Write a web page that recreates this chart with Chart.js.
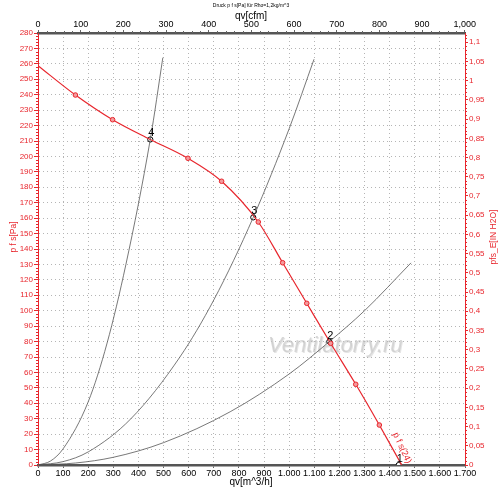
<!DOCTYPE html>
<html><head><meta charset="utf-8">
<script src="https://cdn.jsdelivr.net/npm/chart.js@4/dist/chart.umd.min.js"></script>
<style>html,body{margin:0;padding:0;background:#fff}canvas{display:block}</style>
</head><body>
<canvas id="c" width="500" height="489"></canvas>
<script>
// Fan curve (red): flow qv [m^3/h] and static pressure [Pa]
const fanQ = [0, 149, 297, 447, 597, 731, 877, 974, 1070, 1165, 1265, 1359, 1448];
const fanP = [258.8, 239.8, 223.8, 211, 198.8, 183.9, 157.5, 131.1, 104.8, 78.9, 52.3, 25.9, 0];
const fanMarker = [0, 1, 1, 0, 1, 1, 1, 1, 1, 1, 1, 1, 0];
// System curves (gray)
const sys4Q = [0, 50, 100, 200, 275, 350, 447, 497];
const sys4P = [0, 2.6, 10.5, 41, 79, 130, 211, 264];
const sys3Q = [0, 100, 200, 370, 565, 700, 857, 1000, 1099];
const sys3P = [0, 2.2, 8.5, 30, 70, 107, 160.5, 218, 263];
const sys2Q = [0, 150, 300, 500, 765, 1000, 1160, 1300, 1485];
const sys2P = [0, 1.3, 5, 14.5, 34.5, 59, 80, 100, 131];
// Operating points
const opQ = [1436, 1160, 857, 447];
const opP = [0, 80, 160.5, 211];
const opLabels = ['1', '2', '3', '4'];
// Tick labels / axis values
const cfmTicks = [0, 100, 200, 300, 400, 500, 600, 700, 800, 900, 1000];
const inH2OTicks = [0, 0.05, 0.1, 0.15, 0.2, 0.25, 0.3, 0.35, 0.4, 0.45, 0.5, 0.55, 0.6, 0.65, 0.7, 0.75, 0.8, 0.85, 0.9, 0.95, 1, 1.05, 1.1];
const xMax = 1700;            // m^3/h
const yMax = 280;             // Pa
const cfmPerM3h = 1 / 1.699;  // cfm
const inH2OPerPa = 1 / 249.089;

const RED = '#e8262d';
const FONT = "'Liberation Sans Narrow','Arial Narrow','Liberation Sans',Arial,sans-serif";

const toPts = (qs, ps) => qs.map((q, i) => ({x: q, y: ps[i]}));

const fmtThousands = (v, sep) => {
  const n = Math.round(v);
  if (n >= 1000) { const s = String(n); return s.slice(0, s.length - 3) + sep + s.slice(-3); }
  return String(n);
};

const decorPlugin = {
  id: 'decor',
  beforeDatasetsDraw(chart) {
    const ctx = chart.ctx;
    ctx.save();
    ctx.font = "italic 22px 'Liberation Sans',Arial,sans-serif";
    ctx.textBaseline = 'alphabetic';
    ctx.textAlign = 'left';
    ctx.fillStyle = 'rgba(150,150,150,0.25)';
    ctx.fillText('Ventilatorry.ru', 269, 353);
    ctx.fillStyle = 'rgba(200,200,200,0.7)';
    ctx.fillText('Ventilatorry.ru', 268, 352);
    ctx.restore();
  },
  afterDraw(chart) {
    const ctx = chart.ctx;
    const a = chart.chartArea;
    const sx = chart.scales.x, sy = chart.scales.y, sy2 = chart.scales.y2, sx2 = chart.scales.x2;
    ctx.save();
    // minor ticks
    ctx.lineWidth = 1;
    ctx.strokeStyle = RED;
    ctx.beginPath();
    for (let v = 0; v <= yMax; v += 2) {
      if (v % 10 === 0) continue;
      const y = Math.round(sy.getPixelForValue(v)) + 0.5;
      ctx.moveTo(a.left - 2, y); ctx.lineTo(a.left, y);
    }
    for (let k = 0; k <= 112; k++) {
      if (k % 5 === 0) continue;
      const y = Math.round(sy2.getPixelForValue(k / 100)) + 0.5;
      ctx.moveTo(a.right, y); ctx.lineTo(a.right + 2, y);
    }
    ctx.stroke();
    ctx.strokeStyle = '#666';
    ctx.beginPath();
    for (let v = 0; v <= 1000; v += 20) {
      if (v % 100 === 0) continue;
      const x = Math.round(sx2.getPixelForValue(v)) + 0.5;
      ctx.moveTo(x, a.top - 2); ctx.lineTo(x, a.top);
    }
    ctx.stroke();

    // titles
    ctx.fillStyle = '#000';
    ctx.textAlign = 'center';
    ctx.textBaseline = 'middle';
    ctx.font = "5px 'Liberation Sans',Arial,sans-serif";
    ctx.fillText('Druck p f s[Pa] für Rho=1,2kg/m^3', 251, 6);
    ctx.font = "10px " + FONT;
    ctx.fillText('qv[cfm]', 251, 16.5);
    ctx.fillText('qv[m^3/h]', 251, 482);
    ctx.fillStyle = RED;
    ctx.font = "8.5px " + FONT;
    ctx.save(); ctx.translate(14, 237); ctx.rotate(-Math.PI / 2); ctx.fillText('p f s[Pa]', 0, 0); ctx.restore();
    ctx.save(); ctx.translate(494, 237); ctx.rotate(-Math.PI / 2); ctx.fillText('pfs_E[IN H2O]', 0, 0); ctx.restore();
    // curve label
    ctx.save(); ctx.translate(402, 448); ctx.rotate(65 * Math.PI / 180);
    ctx.font = "9px " + FONT; ctx.fillText('p f s(24)', 0, 0); ctx.restore();

    // operating point labels
    ctx.fillStyle = '#000';
    ctx.font = "11px 'Liberation Sans',Arial,sans-serif";
    opQ.forEach((q, i) => {
      const x = sx.getPixelForValue(q), y = sy.getPixelForValue(opP[i]);
      ctx.fillText(opLabels[i], x + 1, y - 6);
    });
    ctx.restore();
  }
};

const fixSize = (prop, val) => (scale) => { scale[prop] = val; };

new Chart(document.getElementById('c'), {
  type: 'line',
  data: {
    datasets: [
      {data: toPts(sys4Q, sys4P), borderColor: '#555', borderWidth: 0.8, pointRadius: 0, cubicInterpolationMode: 'monotone', xAxisID: 'x', yAxisID: 'y'},
      {data: toPts(sys3Q, sys3P), borderColor: '#555', borderWidth: 0.8, pointRadius: 0, cubicInterpolationMode: 'monotone', xAxisID: 'x', yAxisID: 'y'},
      {data: toPts(sys2Q, sys2P), borderColor: '#555', borderWidth: 0.8, pointRadius: 0, cubicInterpolationMode: 'monotone', xAxisID: 'x', yAxisID: 'y'},
      {data: toPts(fanQ, fanP), borderColor: RED, borderWidth: 1.2, cubicInterpolationMode: 'monotone',
        pointRadius: fanMarker.map(m => m ? 2.3 : 0), pointBackgroundColor: '#f49a9c', pointBorderColor: RED, pointBorderWidth: 1,
        xAxisID: 'x', yAxisID: 'y'},
      {data: toPts(opQ, opP), showLine: false, pointRadius: 2.6, pointBackgroundColor: '#fff', pointBorderColor: '#000', pointBorderWidth: 1, xAxisID: 'x', yAxisID: 'y'}
    ]
  },
  options: {
    responsive: false,
    animation: false,
    devicePixelRatio: 1,
    layout: {padding: 0},
    plugins: {legend: {display: false}, tooltip: {enabled: false}, title: {display: false}},
    scales: {
      x: {
        type: 'linear', position: 'bottom', min: 0, max: xMax,
        afterFit: fixSize('height', 24),
        ticks: {stepSize: 100, color: '#000', font: {family: FONT, size: 9}, padding: 0, maxRotation: 0, autoSkip: false,
          callback: v => fmtThousands(v, '.')},
        grid: {color: '#b5b5b5', tickColor: '#666', tickLength: 3, lineWidth: 1},
        border: {color: '#555', width: 2.5, dash: [1, 3]}
      },
      x2: {
        type: 'linear', position: 'top', min: 0, max: xMax * cfmPerM3h,
        afterFit: fixSize('height', 33),
        afterBuildTicks: (s) => { s.ticks = cfmTicks.map(v => ({value: v})); },
        ticks: {color: '#000', font: {family: FONT, size: 9}, padding: 0, maxRotation: 0, autoSkip: false,
          callback: v => fmtThousands(v, ',')},
        grid: {drawOnChartArea: false, tickColor: '#666', tickLength: 3},
        border: {color: '#555', width: 2.5}
      },
      y: {
        type: 'linear', position: 'left', min: 0, max: yMax,
        afterFit: fixSize('width', 38),
        ticks: {stepSize: 10, color: RED, font: {family: FONT, size: 8}, padding: 1, autoSkip: false},
        grid: {color: '#b5b5b5', tickColor: RED, tickLength: 4, lineWidth: 1},
        border: {color: RED, width: 1, dash: [1, 3]}
      },
      y2: {
        type: 'linear', position: 'right', min: 0, max: yMax * inH2OPerPa,
        afterFit: fixSize('width', 35),
        afterBuildTicks: (s) => { s.ticks = inH2OTicks.map(v => ({value: v})); },
        ticks: {color: RED, font: {family: FONT, size: 8}, padding: 1, autoSkip: false,
          callback: v => String(parseFloat(Number(v).toFixed(2))).replace('.', ',')},
        grid: {drawOnChartArea: false, tickColor: RED, tickLength: 3},
        border: {color: RED, width: 1}
      }
    }
  },
  plugins: [decorPlugin]
});
</script>
</body></html>
